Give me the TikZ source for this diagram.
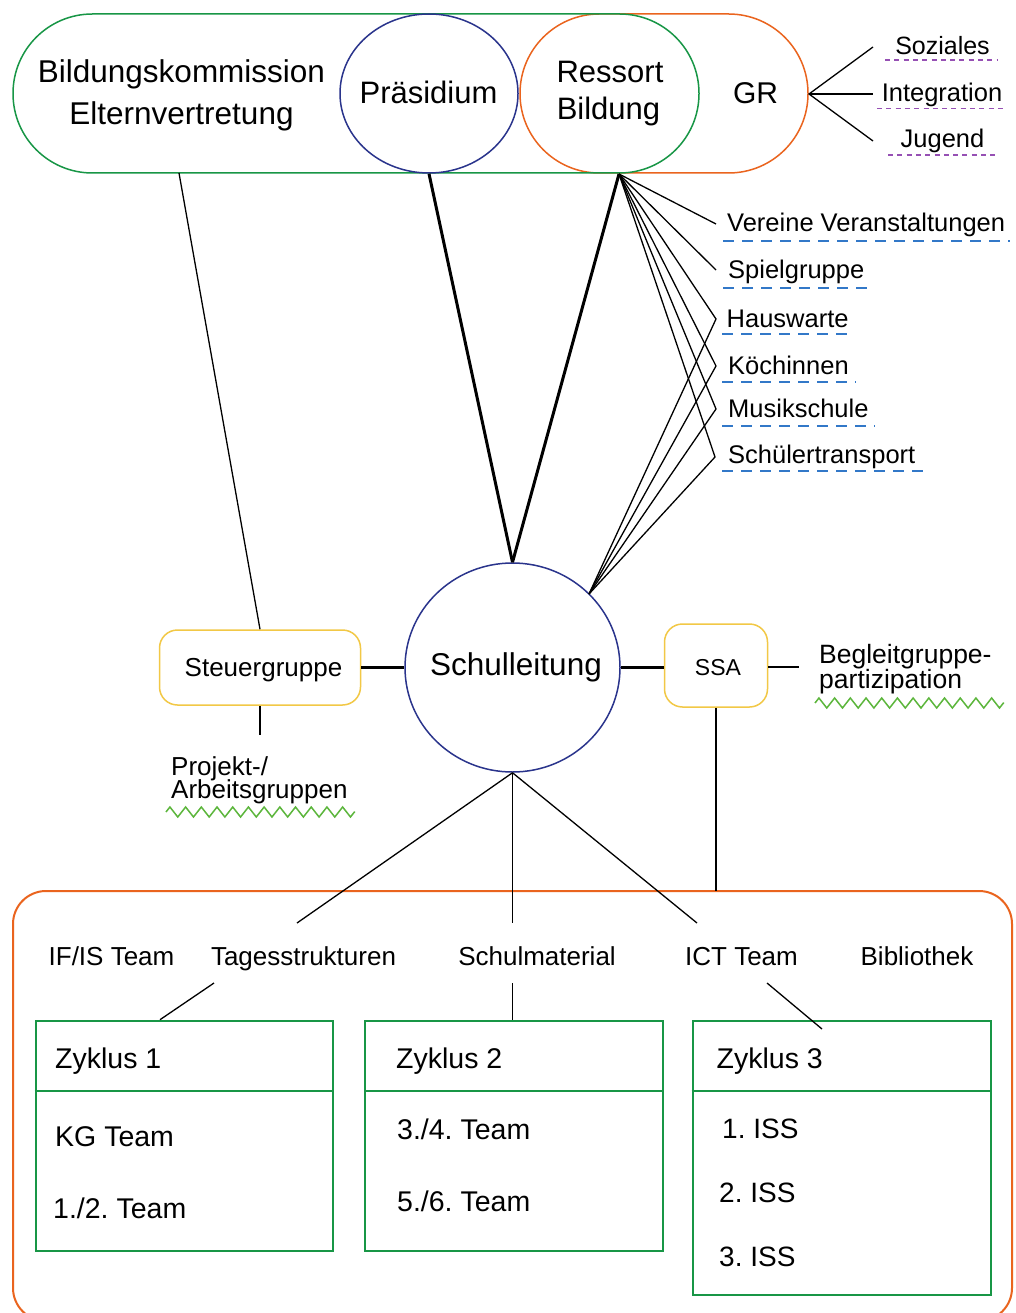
\documentclass[tikz,border=0pt]{standalone}
\usepackage{fontspec}
\setmainfont{Liberation Sans}
\usetikzlibrary{shapes.geometric,decorations.pathmorphing}
\definecolor{cgreen}{RGB}{24,150,70}
\definecolor{corange}{RGB}{234,100,30}
\definecolor{cnavy}{RGB}{42,52,140}
\definecolor{cyellow}{RGB}{242,200,70}
\definecolor{cdash}{RGB}{50,120,200}
\definecolor{cpurple}{RGB}{150,80,180}
\definecolor{czig}{RGB}{92,182,60}
\frenchspacing
\begin{document}
\begin{tikzpicture}[x=1pt,y=-1pt,
  lbl/.style={inner sep=0pt, font=\fontsize{#1}{#1}\selectfont\frenchspacing},
  conn/.style={line width=1.3pt, black},
  thickconn/.style={line width=3pt, black},
  bluedash/.style={cdash, line width=1.7pt, dash pattern=on 11pt off 8pt},
  purpdash/.style={cpurple, line width=1.5pt, dash pattern=on 5pt off 4.3pt},
  zig/.style={czig, line width=1.5pt, decorate, decoration={zigzag, segment length=15.7pt, amplitude=5pt}},
  yellowbox/.style={draw=cyellow, line width=1.5pt, rounded corners=18pt, rectangle, inner sep=0pt},
  zbox/.style={draw=cgreen, line width=2pt, rectangle, inner sep=0pt}
]
\useasboundingbox (0,0) rectangle (1015,1313);
\fill[white] (0,0) rectangle (1015,1313);

% top stadiums
\draw[corange, line width=1.5pt, rounded corners=79.4pt] (520,14) rectangle (808,173);
\draw[cgreen, line width=1.5pt, rounded corners=79.4pt] (13,14) rectangle (699,173);
\node[draw=cnavy, ellipse, line width=1.5pt, minimum width=178pt, minimum height=159pt, inner sep=0pt] (pr) at (429,93.5) {};

\node[lbl=31.5, anchor=base] (bk1) at (181.5,83) {Bildungskommission};
\node[lbl=31.5, anchor=base] (bk2) at (181.5,125) {Elternvertretung};
\node[lbl=31, anchor=base] (prt) at (428.5,104) {Präsidium};
\node[lbl=31, anchor=base] (rb1) at (610,83) {Ressort};
\node[lbl=31, anchor=base] (rb2) at (608.5,120) {Bildung};
\node[lbl=30, anchor=base] (gr) at (755.5,104) {GR};

% GR branches
\coordinate (grE) at (809,94);
\coordinate (soz) at (873,47);
\coordinate (int) at (873,94);
\coordinate (jug) at (873,141);
\draw[conn] (soz) -- (grE) -- (jug);
\draw[conn] (grE) -- (int);
\node[lbl=25, anchor=base] (sozt) at (942.5,55) {Soziales};
\node[lbl=25.5, anchor=base] (intt) at (942,102) {Integration};
\node[lbl=25.5, anchor=base] (jugt) at (942.5,148) {Jugend};
\draw[purpdash] (885,60) -- (997,60);
\draw[purpdash] (877,108.5) -- (1006,108.5);
\draw[purpdash] (888,155) -- (999,155);

% Schulleitung
\node[draw=cnavy, ellipse, line width=1.5pt, minimum width=215pt, minimum height=209pt, inner sep=0pt] (sl) at (512.5,667.5) {};
\node[lbl=31.5, anchor=base] (slt) at (516,675) {Schulleitung};

% fan from Ressort Bildung
\coordinate (apex) at (619,174);
\coordinate (bkb) at (179,173);
\coordinate (conv) at (589,594);
\coordinate (vv) at (716,224);
\coordinate (spg) at (716,270);
\coordinate (hw) at (716,319);
\coordinate (kn) at (716,366);
\coordinate (mu) at (716,409);
\coordinate (stp) at (715,457);
\draw[conn] (apex) -- (vv);
\draw[conn] (apex) -- (spg);
\draw[conn] (apex) -- (hw) -- (conv);
\draw[conn] (apex) -- (kn) -- (conv);
\draw[conn] (apex) -- (mu) -- (conv);
\draw[conn] (apex) -- (stp) -- (conv);
\draw[thickconn] (pr.south) -- (sl.north);
\draw[thickconn] (apex) -- (sl.north);

\node[lbl=25.5, anchor=base west] (vvt) at (727,231.7) {Vereine Veranstaltungen};
\node[lbl=25.5, anchor=base west] (spgt) at (728,278.3) {Spielgruppe};
\node[lbl=25.5, anchor=base west] (hwt) at (726.5,327.3) {Hauswarte};
\node[lbl=25.5, anchor=base west] (knt) at (728,374) {Köchinnen};
\node[lbl=25.5, anchor=base west] (mut) at (728,417.3) {Musikschule};
\node[lbl=25.5, anchor=base west] (stpt) at (728,463.3) {Schülertransport};
\draw[bluedash] (723,241) -- (1010,241);
\draw[bluedash] (723,288.3) -- (869,288.3);
\draw[bluedash] (722,334.3) -- (852,334.3);
\draw[bluedash] (722,382) -- (856,382);
\draw[bluedash] (722,425.7) -- (875,425.7);
\draw[bluedash] (722,471) -- (927,471);

% Steuergruppe
\node[yellowbox, minimum width=201pt, minimum height=75pt] (st) at (260,667.5) {};
\node[lbl=26, anchor=base] (stt) at (263.5,676) {Steuergruppe};
\draw[conn] (bkb) -- (st.north);
\draw[thickconn] (st.east) -- (sl.west);
\coordinate (pag) at (260,735);
\draw[conn] (st.south) -- (pag);
\node[lbl=26, anchor=base west] (pa1) at (171,775) {Projekt-/};
\node[lbl=26, anchor=base west] (pa2) at (171,798.3) {Arbeitsgruppen};
\draw[zig] (166,812) -- (355,812);

% SSA
\node[yellowbox, minimum width=103pt, minimum height=83pt] (ssa) at (716,665.5) {};
\node[lbl=23, anchor=base] (ssat) at (718,675.7) {SSA};
\draw[thickconn] (sl.east) -- (sl.east -| ssa.west);
\coordinate (bgp) at (799,667);
\draw[conn] (ssa.east |- bgp) -- (bgp);
\node[lbl=26.5, anchor=base west] (bg1) at (819,663.3) {Begleitgruppe-};
\node[lbl=26.5, anchor=base west] (bg2) at (819,688.3) {partizipation};
\draw[zig] (815,703) -- (1004,703);

% bottom orange container
\draw[corange, line width=2pt, rounded corners=33pt] (13,891) rectangle (1012,1321);
\coordinate (ssab) at (716,891);
\draw[conn] (ssa.south) -- (ssab);

% bottom labels
\node[lbl=26, anchor=base] (ifis) at (111.5,965) {IF/IS Team};
\node[lbl=26, anchor=base] (tag) at (303.5,965) {Tagesstrukturen};
\node[lbl=26, anchor=base] (smat) at (537,965) {Schulmaterial};
\node[lbl=26, anchor=base] (ict) at (741.5,965) {ICT Team};
\node[lbl=26, anchor=base] (bib) at (917,965) {Bibliothek};

\coordinate (tagT) at (297,923);
\coordinate (smatT) at (512.5,923);
\coordinate (ictT) at (697,923);
\draw[conn] (sl.south) -- (tagT);
\draw[conn] (sl.south) -- (smatT);
\draw[conn] (sl.south) -- (ictT);

% Zyklus boxes
\node[zbox, minimum width=297pt, minimum height=230pt] (z1) at (184.2,1135.7) {};
\node[zbox, minimum width=298pt, minimum height=230pt] (z2) at (514,1135.7) {};
\node[zbox, minimum width=298.4pt, minimum height=274pt] (z3) at (841.8,1158) {};
\draw[cgreen, line width=2pt] (z1.west |- 0,1091) -- (z1.east |- 0,1091);
\draw[cgreen, line width=2pt] (z2.west |- 0,1091) -- (z2.east |- 0,1091);
\draw[cgreen, line width=2pt] (z3.west |- 0,1091) -- (z3.east |- 0,1091);

\coordinate (tagB) at (214,983);
\coordinate (smatB) at (512.5,983);
\coordinate (ictB) at (767,983);
\coordinate (z3in) at (822,1029);
\draw[conn] (tagB) -- (z1.north -| 160,0);
\draw[conn] (smatB) -- (z2.north -| 512.5,0);
\draw[conn] (ictB) -- (z3in);

\node[lbl=28.5, anchor=base west] (z1t) at (55,1068.3) {Zyklus 1};
\node[lbl=28.5, anchor=base west] (z1a) at (55,1146) {KG Team};
\node[lbl=28.5, anchor=base west] (z1b) at (53,1218.3) {1./2. Team};
\node[lbl=28.5, anchor=base west] (z2t) at (396,1068.3) {Zyklus 2};
\node[lbl=28.5, anchor=base west] (z2a) at (397,1139.3) {3./4. Team};
\node[lbl=28.5, anchor=base west] (z2b) at (397,1211.7) {5./6. Team};
\node[lbl=28.5, anchor=base west] (z3t) at (716.5,1068.3) {Zyklus 3};
\node[lbl=28, anchor=base west] (z3a) at (722,1138.3) {1. ISS};
\node[lbl=28, anchor=base west] (z3b) at (719,1202.7) {2. ISS};
\node[lbl=28, anchor=base west] (z3c) at (719,1266) {3. ISS};
\end{tikzpicture}
\end{document}
